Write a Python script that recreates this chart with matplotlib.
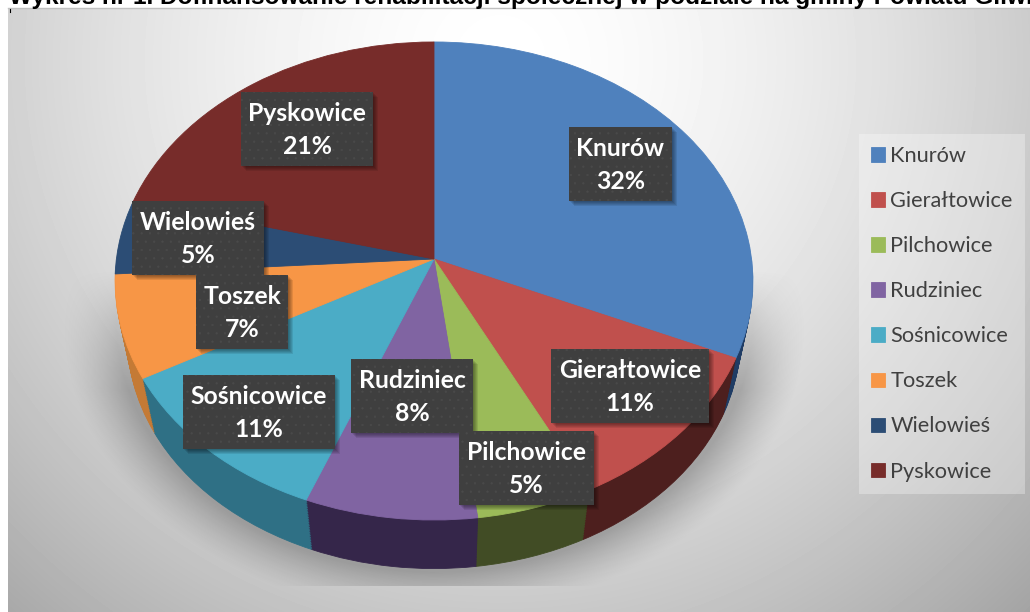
import numpy as np
import matplotlib
matplotlib.use('Agg')
import matplotlib.pyplot as plt
from matplotlib.patches import Rectangle
from matplotlib.transforms import Transform

categories = ['Knurów', 'Gierałtowice', 'Pilchowice', 'Rudziniec',
              'Sośnicowice', 'Toszek', 'Wielowieś', 'Pyskowice']
values = [31.6, 11.0, 5.4, 8, 11, 7, 5, 21]
colors = ['#4f81bd', '#c0504d', '#9bbb59', '#8064a2',
          '#4bacc6', '#f79646', '#2c4d75', '#772c2a']
side_colors = ['#1f3c64', '#4d1f1e', '#414c25', '#35264a',
               '#2f7085', '#c47a35', '#1f3c64', '#4d1f1e']
title = 'Wykres nr 1. Dofinansowanie rehabilitacji społecznej w podziale na gminy Powiatu Gliwi'

# label boxes in pixels: left, top, right, bottom
boxes = [(569, 127, 672, 201), (551, 349, 709, 423), (459, 431, 594, 505),
         (351, 359, 473, 433), (183, 375, 335, 449), (196, 275, 288, 349),
         (132, 201, 264, 275), (241, 92, 373, 166)]

W, H = 1030, 612
CX, CY = 434, 259


class Perspective(Transform):
    # tilted disc: unit circle -> pixels
    input_dims = 2
    output_dims = 2
    is_separable = False

    def __init__(self, scale=1.0, drop=0.0):
        super().__init__()
        self.scale = scale
        self.drop = drop

    def transform_non_affine(self, xy):
        xy = np.asarray(xy, dtype=float)
        d = 1 + 0.092 * xy[:, 1]
        x = CX + self.scale * 317.6 * xy[:, 0] / d
        y = CY + self.drop - self.scale * 237 * xy[:, 1] / d
        return np.column_stack([x, y])


def draw_pie(ax, cols, scale, drop, z):
    wedges, _ = ax.pie(values, colors=cols, startangle=90, counterclock=False,
                       wedgeprops={'linewidth': 0.6})
    tr = Perspective(scale, drop) + ax.transData
    for w, c in zip(wedges, cols):
        w.set_transform(tr)
        w.set_edgecolor(c)
        w.set_zorder(z)
    return wedges


fig = plt.figure(figsize=(W / 100, H / 100), dpi=100, facecolor='white')
ax = fig.add_axes([0, 0, 1, 1])

# background
yy, xx = np.mgrid[8:H, 8:W]
dist = np.sqrt(((xx - 500) / 640.0) ** 2 + ((yy - 60) / 640.0) ** 2)
bg = 1 - 0.27 * np.clip(dist, 0, 1.4) ** 1.6
ax.imshow(bg, cmap='gray', vmin=0, vmax=1, extent=(8, W, H, 8), zorder=0, aspect='auto')
ax.plot([8, W], [8, 8], color='#c0c0c0', lw=1, zorder=1)

# soft shadow under the disc
e = np.sqrt(((xx - 434) / 318.0) ** 2 + ((yy - 322) / 250.0) ** 2)
sh = np.clip((1.17 - e) / 0.17, 0, 1) ** 1.3 * np.clip((yy - 270) / 120.0, 0, 1)
sh[yy > 585] = 0
rgba = np.zeros(sh.shape + (4,))
rgba[..., :3] = 0.35
rgba[..., 3] = 0.42 * sh
ax.imshow(rgba, extent=(8, W, H, 8), zorder=1, aspect='auto')

# disc side, then top face
n_layers = 30
for i in range(n_layers, 0, -1):
    t = i / n_layers
    draw_pie(ax, side_colors, 1 - 0.04 * t, 59 * t, 2 + (n_layers - i) * 0.01)
top = draw_pie(ax, colors, 1.0, 0.0, 3)

ax.set_aspect('auto')
ax.set_xlim(0, W)
ax.set_ylim(H, 0)
ax.axis('off')

# data labels
plt.rcParams['hatch.linewidth'] = 0.4
for name, v, (l, t, r, b) in zip(categories, values, boxes):
    for k in range(1, 6):
        ax.add_patch(Rectangle((l + k, t + k), r - l, b - t, facecolor='black',
                               alpha=0.09, lw=0, zorder=4))
    ax.add_patch(Rectangle((l, t), r - l, b - t, facecolor='#3f3f3f', edgecolor='#4a4a4a',
                           hatch='..', lw=0, zorder=5))
    ax.text((l + r) / 2, (t + b) / 2 + 1, f'{name}\n{round(v)}%', color='white', fontsize=17.8,
            fontweight='bold', family='Lato', ha='center', va='center',
            linespacing=1.5, zorder=6)

# legend
leg = ax.legend(top, categories, loc='upper left', bbox_to_anchor=(859 / W, 1 - 134 / H),
                prop={'family': 'Lato', 'size': 15.7}, labelcolor='#404040',
                frameon=True, fancybox=False, framealpha=0.3, facecolor='white',
                edgecolor='none', handlelength=0.64, handleheight=0.64,
                labelspacing=1.15, handletextpad=0.25, borderaxespad=0,
                borderpad=0.55)
leg.set_zorder(7)

ax.plot([10, 10], [9, 12], color='black', lw=0.8, zorder=8)
ax.text(9, 4, title, fontsize=17.6, fontweight='bold', family='Liberation Sans',
        color='black', ha='left', va='baseline', clip_on=False, zorder=8)

fig.savefig('out.png', dpi=100)
